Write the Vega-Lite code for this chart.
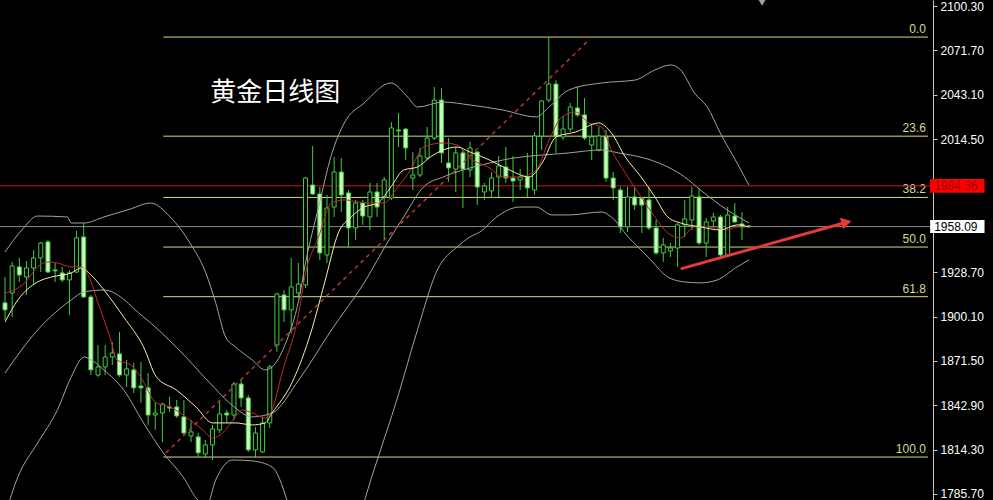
{
"$schema":"https://vega.github.io/schema/vega-lite/v6.json",
"width":933,"height":500,"autosize":"none",
"padding":{"left":0,"top":0,"right":60,"bottom":0},
"background":"#000000",
"config":{"view":{"stroke":null}},
"datasets":{
"candles":[
{"k":0,"o":1908.9,"h":1925.6,"l":1897.9,"c":1904.4},
{"k":1,"o":1915.3,"h":1935.3,"l":1899.8,"c":1932.7},
{"k":2,"o":1932.1,"h":1937.9,"l":1922.4,"c":1926.9},
{"k":3,"o":1925.6,"h":1935.9,"l":1914.0,"c":1931.4},
{"k":4,"o":1931.4,"h":1943.0,"l":1920.5,"c":1937.9},
{"k":5,"o":1937.9,"h":1948.2,"l":1928.8,"c":1947.5},
{"k":6,"o":1948.2,"h":1949.5,"l":1928.2,"c":1928.8},
{"k":7,"o":1930.1,"h":1934.6,"l":1922.4,"c":1929.5},
{"k":8,"o":1928.2,"h":1932.1,"l":1922.4,"c":1923.7},
{"k":9,"o":1923.7,"h":1930.1,"l":1901.1,"c":1928.2},
{"k":10,"o":1928.8,"h":1955.3,"l":1928.2,"c":1950.8},
{"k":11,"o":1951.4,"h":1960.4,"l":1912.1,"c":1912.7},
{"k":12,"o":1912.7,"h":1914.0,"l":1862.4,"c":1865.7},
{"k":13,"o":1862.4,"h":1881.8,"l":1861.2,"c":1867.6},
{"k":14,"o":1867.6,"h":1881.8,"l":1862.4,"c":1874.0},
{"k":15,"o":1874.0,"h":1883.7,"l":1868.9,"c":1876.6},
{"k":16,"o":1876.0,"h":1890.2,"l":1861.2,"c":1862.4},
{"k":17,"o":1862.4,"h":1872.1,"l":1854.7,"c":1866.3},
{"k":18,"o":1865.7,"h":1870.2,"l":1850.8,"c":1854.1},
{"k":19,"o":1855.3,"h":1870.8,"l":1844.4,"c":1854.1},
{"k":20,"o":1854.1,"h":1863.7,"l":1830.2,"c":1836.6},
{"k":21,"o":1836.6,"h":1845.0,"l":1827.0,"c":1837.9},
{"k":22,"o":1837.9,"h":1844.5,"l":1819.2,"c":1843.7},
{"k":23,"o":1841.8,"h":1848.3,"l":1838.6,"c":1841.1},
{"k":24,"o":1841.8,"h":1846.3,"l":1834.7,"c":1836.0},
{"k":25,"o":1835.4,"h":1846.3,"l":1823.8,"c":1825.0},
{"k":26,"o":1823.1,"h":1833.4,"l":1819.2,"c":1825.7},
{"k":27,"o":1822.5,"h":1825.0,"l":1809.6,"c":1812.2},
{"k":28,"o":1811.5,"h":1820.5,"l":1808.9,"c":1817.3},
{"k":29,"o":1817.3,"h":1830.2,"l":1807.6,"c":1827.6},
{"k":30,"o":1827.0,"h":1845.0,"l":1825.0,"c":1837.3},
{"k":31,"o":1837.9,"h":1839.9,"l":1831.5,"c":1836.6},
{"k":32,"o":1836.6,"h":1857.9,"l":1833.4,"c":1856.6},
{"k":33,"o":1856.6,"h":1859.2,"l":1841.8,"c":1847.6},
{"k":34,"o":1847.6,"h":1849.5,"l":1812.8,"c":1814.1},
{"k":35,"o":1814.1,"h":1828.9,"l":1808.9,"c":1825.0},
{"k":36,"o":1812.8,"h":1835.4,"l":1812.2,"c":1831.5},
{"k":37,"o":1831.5,"h":1868.9,"l":1828.3,"c":1867.6},
{"k":38,"o":1881.8,"h":1915.3,"l":1877.3,"c":1914.7},
{"k":39,"o":1914.0,"h":1917.2,"l":1896.6,"c":1904.4},
{"k":40,"o":1904.4,"h":1937.9,"l":1889.5,"c":1919.2},
{"k":41,"o":1915.3,"h":1934.6,"l":1912.0,"c":1921.0},
{"k":42,"o":1920.5,"h":1990.1,"l":1918.5,"c":1989.4},
{"k":43,"o":1984.9,"h":2010.1,"l":1978.5,"c":1979.1},
{"k":44,"o":1979.1,"h":1983.6,"l":1936.6,"c":1941.1},
{"k":45,"o":1939.8,"h":1978.5,"l":1934.6,"c":1970.1},
{"k":46,"o":1970.7,"h":2003.0,"l":1964.3,"c":1993.3},
{"k":47,"o":1993.3,"h":2002.3,"l":1967.5,"c":1978.5},
{"k":48,"o":1979.8,"h":1981.7,"l":1945.0,"c":1957.2},
{"k":49,"o":1957.2,"h":1975.3,"l":1949.5,"c":1973.3},
{"k":50,"o":1973.3,"h":1975.3,"l":1959.2,"c":1964.9},
{"k":51,"o":1964.3,"h":1986.2,"l":1955.9,"c":1980.4},
{"k":52,"o":1980.4,"h":1986.2,"l":1964.3,"c":1970.7},
{"k":53,"o":1977.2,"h":1990.1,"l":1949.5,"c":1988.2},
{"k":54,"o":1976.5,"h":2025.5,"l":1975.3,"c":2021.7},
{"k":55,"o":2020.4,"h":2031.3,"l":2009.4,"c":2019.8},
{"k":56,"o":2021.0,"h":2021.7,"l":2001.0,"c":2008.8},
{"k":57,"o":1989.4,"h":2006.2,"l":1981.7,"c":1991.4},
{"k":58,"o":1991.4,"h":2008.8,"l":1990.1,"c":2003.6},
{"k":59,"o":2002.3,"h":2022.3,"l":2001.0,"c":2015.2},
{"k":60,"o":2015.2,"h":2048.1,"l":2013.9,"c":2039.7},
{"k":61,"o":2039.7,"h":2047.5,"l":1999.1,"c":2005.6},
{"k":62,"o":1999.1,"h":2015.2,"l":1986.9,"c":1995.9},
{"k":63,"o":1995.2,"h":2009.4,"l":1980.4,"c":2005.6},
{"k":64,"o":2005.6,"h":2007.5,"l":1970.1,"c":1995.2},
{"k":65,"o":1994.6,"h":2012.7,"l":1990.1,"c":2008.8},
{"k":66,"o":2006.2,"h":2006.8,"l":1972.0,"c":1983.6},
{"k":67,"o":1980.4,"h":1986.2,"l":1975.3,"c":1984.3},
{"k":68,"o":1981.1,"h":1993.3,"l":1976.5,"c":1989.4},
{"k":69,"o":1990.1,"h":2003.6,"l":1977.2,"c":1997.2},
{"k":70,"o":1996.5,"h":2009.4,"l":1986.2,"c":1989.4},
{"k":71,"o":1989.4,"h":2003.6,"l":1974.0,"c":1987.5},
{"k":72,"o":1988.2,"h":1995.2,"l":1981.7,"c":1990.1},
{"k":73,"o":1990.1,"h":2005.6,"l":1977.2,"c":1983.0},
{"k":74,"o":1981.7,"h":2019.1,"l":1978.5,"c":2016.5},
{"k":75,"o":2016.5,"h":2039.7,"l":2007.5,"c":2039.1},
{"k":76,"o":2039.7,"h":2080.3,"l":2038.4,"c":2050.0},
{"k":77,"o":2050.0,"h":2052.6,"l":2005.6,"c":2016.5},
{"k":78,"o":2015.9,"h":2029.4,"l":2013.9,"c":2021.0},
{"k":79,"o":2021.0,"h":2037.8,"l":2019.1,"c":2035.2},
{"k":80,"o":2034.6,"h":2048.1,"l":2028.8,"c":2030.1},
{"k":81,"o":2030.1,"h":2041.0,"l":2013.9,"c":2015.2},
{"k":82,"o":2010.7,"h":2023.6,"l":2001.0,"c":2015.9},
{"k":83,"o":2007.5,"h":2022.4,"l":2006.5,"c":2016.5},
{"k":84,"o":2016.5,"h":2020.4,"l":1986.9,"c":1989.4},
{"k":85,"o":1989.4,"h":1993.3,"l":1975.3,"c":1983.0},
{"k":86,"o":1981.7,"h":1983.6,"l":1954.0,"c":1957.9},
{"k":87,"o":1957.9,"h":1983.6,"l":1954.6,"c":1977.2},
{"k":88,"o":1977.2,"h":1983.0,"l":1968.8,"c":1972.0},
{"k":89,"o":1976.5,"h":1977.2,"l":1954.0,"c":1972.0},
{"k":90,"o":1975.3,"h":1983.6,"l":1955.9,"c":1957.2},
{"k":91,"o":1957.2,"h":1962.4,"l":1939.8,"c":1941.1},
{"k":92,"o":1941.1,"h":1950.8,"l":1935.3,"c":1946.3},
{"k":93,"o":1942.4,"h":1947.5,"l":1938.5,"c":1944.3},
{"k":94,"o":1944.3,"h":1960.4,"l":1932.1,"c":1959.2},
{"k":95,"o":1959.2,"h":1975.3,"l":1951.4,"c":1963.0},
{"k":96,"o":1962.4,"h":1983.6,"l":1955.9,"c":1977.8},
{"k":97,"o":1977.2,"h":1983.0,"l":1946.3,"c":1947.5},
{"k":98,"o":1947.5,"h":1963.7,"l":1938.5,"c":1961.1},
{"k":99,"o":1961.7,"h":1966.9,"l":1957.9,"c":1964.3},
{"k":100,"o":1964.3,"h":1965.6,"l":1938.5,"c":1939.8},
{"k":101,"o":1939.8,"h":1970.7,"l":1939.2,"c":1965.6},
{"k":102,"o":1964.9,"h":1973.3,"l":1960.4,"c":1961.1},
{"k":103,"o":1959.8,"h":1967.5,"l":1949.5,"c":1957.9},
{"k":104,"o":1958.5,"h":1958.9,"l":1957.5,"c":1958.09}
],
"lines":[
{"s":"upper","k":0,"p":1941.7},{"s":"upper","k":2.35,"p":1955.9},{"s":"upper","k":4.56,"p":1964.9},{"s":"upper","k":8.71,"p":1964.3},{"s":"upper","k":9.26,"p":1960.4},{"s":"upper","k":11.06,"p":1960.4},{"s":"upper","k":13.83,"p":1964.3},{"s":"upper","k":17.56,"p":1969.5},{"s":"upper","k":20.32,"p":1973.3},{"s":"upper","k":23.09,"p":1964.3},{"s":"upper","k":25.85,"p":1947.5},{"s":"upper","k":28.07,"p":1928.2},{"s":"upper","k":29.45,"p":1908.9},{"s":"upper","k":30.83,"p":1886.9},{"s":"upper","k":32.21,"p":1880.5},{"s":"upper","k":34.56,"p":1872.1},{"s":"upper","k":36.36,"p":1865.7},{"s":"upper","k":37.33,"p":1867.6},{"s":"upper","k":39.13,"p":1881.8},{"s":"upper","k":41.06,"p":1910.8},{"s":"upper","k":42.03,"p":1935.3},{"s":"upper","k":43.83,"p":1970.7},{"s":"upper","k":45.62,"p":2004.3},{"s":"upper","k":47.42,"p":2024.9},{"s":"upper","k":50.19,"p":2037.8},{"s":"upper","k":53.92,"p":2050.7},{"s":"upper","k":56.27,"p":2041.7},{"s":"upper","k":57.65,"p":2035.2},{"s":"upper","k":61.25,"p":2038.4},{"s":"upper","k":64.98,"p":2036.5},{"s":"upper","k":69.54,"p":2033.3},{"s":"upper","k":74.24,"p":2028.8},{"s":"upper","k":76.04,"p":2035.2},{"s":"upper","k":78.81,"p":2046.2},{"s":"upper","k":83.37,"p":2050.7},{"s":"upper","k":88.07,"p":2052.6},{"s":"upper","k":90.83,"p":2059.1},{"s":"upper","k":93.05,"p":2062.3},{"s":"upper","k":94.43,"p":2059.1},{"s":"upper","k":96.36,"p":2044.2},{"s":"upper","k":98.16,"p":2035.2},{"s":"upper","k":99.96,"p":2018.5},{"s":"upper","k":102.31,"p":1999.1},{"s":"upper","k":103.97,"p":1984.9},
{"s":"mid","k":0,"p":1863.7},{"s":"mid","k":4.56,"p":1891.4},{"s":"mid","k":9.26,"p":1910.8},{"s":"mid","k":11.06,"p":1916.0},{"s":"mid","k":13.83,"p":1917.2},{"s":"mid","k":19.36,"p":1899.8},{"s":"mid","k":23.92,"p":1880.5},{"s":"mid","k":28.62,"p":1857.3},{"s":"mid","k":31.38,"p":1844.4},{"s":"mid","k":34.56,"p":1835.4},{"s":"mid","k":37.33,"p":1837.9},{"s":"mid","k":41.06,"p":1859.2},{"s":"mid","k":45.62,"p":1891.4},{"s":"mid","k":50.19,"p":1921.8},{"s":"mid","k":53.92,"p":1951.4},{"s":"mid","k":55.72,"p":1964.3},{"s":"mid","k":58.48,"p":1983.6},{"s":"mid","k":61.25,"p":1990.1},{"s":"mid","k":64.01,"p":1994.6},{"s":"mid","k":67.74,"p":1999.1},{"s":"mid","k":69.54,"p":2001.0},{"s":"mid","k":78.81,"p":2005.6},{"s":"mid","k":83.37,"p":2007.5},{"s":"mid","k":85.72,"p":2005.6},{"s":"mid","k":90.28,"p":2001.0},{"s":"mid","k":94.98,"p":1990.1},{"s":"mid","k":97.19,"p":1981.7},{"s":"mid","k":100.93,"p":1968.8},{"s":"mid","k":103.97,"p":1960.4},
{"s":"lower","k":0,"p":1772.0},{"s":"lower","k":1.8,"p":1796.7},{"s":"lower","k":4.56,"p":1818.6},{"s":"lower","k":7.33,"p":1839.9},{"s":"lower","k":9.26,"p":1861.2},{"s":"lower","k":11.06,"p":1874.0},{"s":"lower","k":12.03,"p":1872.1},{"s":"lower","k":13.83,"p":1865.7},{"s":"lower","k":16.59,"p":1852.8},{"s":"lower","k":19.36,"p":1831.5},{"s":"lower","k":22.12,"p":1812.2},{"s":"lower","k":24.89,"p":1796.7},{"s":"lower","k":26.96,"p":1781.8},{"s":"lower","k":28.2,"p":1778.6},{"s":"lower","k":29.45,"p":1794.7},{"s":"lower","k":31.8,"p":1807.6},{"s":"lower","k":34.56,"p":1807.0},{"s":"lower","k":37.33,"p":1803.1},{"s":"lower","k":39.4,"p":1781.8},{"s":"lower","k":41.48,"p":1743.2},{"s":"lower","k":44.24,"p":1730.3},{"s":"lower","k":48.39,"p":1756.1},{"s":"lower","k":51.57,"p":1801.2},{"s":"lower","k":54.89,"p":1848.3},{"s":"lower","k":57.65,"p":1891.5},{"s":"lower","k":60.42,"p":1930.1},{"s":"lower","k":63.18,"p":1945.0},{"s":"lower","k":64.98,"p":1951.4},{"s":"lower","k":66.78,"p":1955.9},{"s":"lower","k":67.74,"p":1960.4},{"s":"lower","k":69.54,"p":1966.9},{"s":"lower","k":71.89,"p":1970.7},{"s":"lower","k":74.24,"p":1970.7},{"s":"lower","k":76.45,"p":1965.6},{"s":"lower","k":78.81,"p":1965.6},{"s":"lower","k":83.37,"p":1967.5},{"s":"lower","k":84.75,"p":1964.3},{"s":"lower","k":87.1,"p":1951.4},{"s":"lower","k":89.87,"p":1938.5},{"s":"lower","k":92.63,"p":1925.6},{"s":"lower","k":94.98,"p":1922.4},{"s":"lower","k":97.19,"p":1921.8},{"s":"lower","k":99.54,"p":1923.7},{"s":"lower","k":102.31,"p":1932.1},{"s":"lower","k":103.97,"p":1936.6},
{"s":"ma5","k":0,"p":1915.3},{"s":"ma5","k":2.77,"p":1921.8},{"s":"ma5","k":4.56,"p":1932.1},{"s":"ma5","k":5.94,"p":1935.3},{"s":"ma5","k":7.33,"p":1934.6},{"s":"ma5","k":9.26,"p":1932.1},{"s":"ma5","k":10.65,"p":1932.1},{"s":"ma5","k":11.75,"p":1925.6},{"s":"ma5","k":12.86,"p":1910.8},{"s":"ma5","k":14.79,"p":1885.0},{"s":"ma5","k":15.62,"p":1872.1},{"s":"ma5","k":17.56,"p":1868.9},{"s":"ma5","k":18.94,"p":1861.2},{"s":"ma5","k":21.15,"p":1844.4},{"s":"ma5","k":23.09,"p":1841.8},{"s":"ma5","k":25.85,"p":1833.4},{"s":"ma5","k":27.65,"p":1827.0},{"s":"ma5","k":29.03,"p":1821.8},{"s":"ma5","k":30.42,"p":1825.0},{"s":"ma5","k":32.21,"p":1835.4},{"s":"ma5","k":33.18,"p":1839.9},{"s":"ma5","k":34.56,"p":1837.9},{"s":"ma5","k":36.36,"p":1834.7},{"s":"ma5","k":37.33,"p":1839.9},{"s":"ma5","k":38.71,"p":1863.7},{"s":"ma5","k":41.06,"p":1902.4},{"s":"ma5","k":41.89,"p":1925.6},{"s":"ma5","k":43.83,"p":1951.4},{"s":"ma5","k":45.62,"p":1973.3},{"s":"ma5","k":47.42,"p":1975.3},{"s":"ma5","k":49.36,"p":1974.0},{"s":"ma5","k":51.15,"p":1973.3},{"s":"ma5","k":52.95,"p":1973.3},{"s":"ma5","k":54.89,"p":1983.6},{"s":"ma5","k":56.68,"p":1994.6},{"s":"ma5","k":58.48,"p":2009.4},{"s":"ma5","k":61.25,"p":2012.0},{"s":"ma5","k":63.18,"p":2010.7},{"s":"ma5","k":64.98,"p":2002.3},{"s":"ma5","k":67.74,"p":1995.9},{"s":"ma5","k":69.54,"p":1990.1},{"s":"ma5","k":71.89,"p":1990.1},{"s":"ma5","k":74.24,"p":1994.6},{"s":"ma5","k":76.04,"p":2013.9},{"s":"ma5","k":77.84,"p":2028.8},{"s":"ma5","k":79.77,"p":2032.0},{"s":"ma5","k":81.57,"p":2024.9},{"s":"ma5","k":83.37,"p":2022.3},{"s":"ma5","k":84.75,"p":2007.5},{"s":"ma5","k":86.69,"p":1992.7},{"s":"ma5","k":88.9,"p":1977.2},{"s":"ma5","k":90.83,"p":1964.3},{"s":"ma5","k":92.63,"p":1954.0},{"s":"ma5","k":94.43,"p":1950.8},{"s":"ma5","k":96.36,"p":1957.9},{"s":"ma5","k":98.16,"p":1957.9},{"s":"ma5","k":100.93,"p":1955.9},{"s":"ma5","k":102.31,"p":1957.9},{"s":"ma5","k":103.97,"p":1957.9},
{"s":"ma10","k":0,"p":1896.6},{"s":"ma10","k":1.8,"p":1910.8},{"s":"ma10","k":4.56,"p":1922.4},{"s":"ma10","k":6.5,"p":1925.6},{"s":"ma10","k":9.26,"p":1928.2},{"s":"ma10","k":10.65,"p":1931.4},{"s":"ma10","k":12.03,"p":1926.9},{"s":"ma10","k":13.83,"p":1917.2},{"s":"ma10","k":16.59,"p":1899.8},{"s":"ma10","k":19.36,"p":1880.5},{"s":"ma10","k":21.15,"p":1861.2},{"s":"ma10","k":23.92,"p":1852.8},{"s":"ma10","k":26.68,"p":1841.8},{"s":"ma10","k":29.03,"p":1831.5},{"s":"ma10","k":32.21,"p":1831.5},{"s":"ma10","k":34.56,"p":1830.2},{"s":"ma10","k":36.36,"p":1831.5},{"s":"ma10","k":37.33,"p":1837.9},{"s":"ma10","k":40.09,"p":1857.3},{"s":"ma10","k":42.86,"p":1891.4},{"s":"ma10","k":44.66,"p":1921.8},{"s":"ma10","k":46.59,"p":1954.0},{"s":"ma10","k":48.39,"p":1964.3},{"s":"ma10","k":50.19,"p":1970.7},{"s":"ma10","k":52.12,"p":1973.3},{"s":"ma10","k":53.92,"p":1983.6},{"s":"ma10","k":55.72,"p":1994.6},{"s":"ma10","k":57.65,"p":1996.5},{"s":"ma10","k":59.45,"p":2003.0},{"s":"ma10","k":61.25,"p":2007.5},{"s":"ma10","k":63.18,"p":2009.4},{"s":"ma10","k":64.98,"p":2006.2},{"s":"ma10","k":67.74,"p":2001.0},{"s":"ma10","k":70.51,"p":1994.6},{"s":"ma10","k":73.27,"p":1990.1},{"s":"ma10","k":75.07,"p":1999.1},{"s":"ma10","k":77.01,"p":2015.9},{"s":"ma10","k":79.77,"p":2019.1},{"s":"ma10","k":82.95,"p":2024.9},{"s":"ma10","k":84.75,"p":2018.5},{"s":"ma10","k":86.69,"p":2003.0},{"s":"ma10","k":88.9,"p":1990.1},{"s":"ma10","k":90.83,"p":1977.2},{"s":"ma10","k":92.63,"p":1964.3},{"s":"ma10","k":94.43,"p":1960.4},{"s":"ma10","k":97.19,"p":1957.9},{"s":"ma10","k":99.96,"p":1955.9},{"s":"ma10","k":102.31,"p":1959.2},{"s":"ma10","k":103.97,"p":1957.9}
],
"fib":[
{"lvl":"0.0","p":2080.3},{"lvl":"23.6","p":2016.4},{"lvl":"38.2","p":1976.9},{"lvl":"50.0","p":1944.9},{"lvl":"61.8","p":1912.9},{"lvl":"100.0","p":1809.5}
],
"trend":[{"k":22.5,"p":1812.2},{"k":81.6,"p":2078.4}],
"arrow":[{"k":94.43,"p":1930.8},{"k":117.6,"p":1960.9}]
},
"layer":[
{"data":{"name":"fib"},"mark":{"type":"rule","color":"#d9d97e","strokeWidth":1},
 "encoding":{"x":{"datum":22.12,"type":"quantitative","scale":{"domain":[0,129],"nice":false,"zero":false},"axis":null},"x2":{"datum":129},
 "y":{"field":"p","type":"quantitative","scale":{"domain":[1781.8,2104.2],"nice":false,"zero":false},
   "axis":{"orient":"right","title":null,"values":[1785.7,1814.3,1842.9,1871.5,1900.1,1928.7,2014.5,2043.1,2071.7,2100.3],"format":".2f","labelColor":"#ffffff","labelFont":"Liberation Sans","labelFontSize":12,"tickColor":"#c8c8c8","tickSize":4,"domainColor":"#c8c8c8","grid":false,"labelPadding":3,"labelOverlap":false,"labelBound":false,"labelFlush":false}}}},
{"data":{"name":"fib"},"mark":{"type":"text","color":"#d9d98a","font":"Liberation Sans","fontSize":12,"align":"right","baseline":"bottom","dy":-1},
 "encoding":{"x":{"datum":128.7,"type":"quantitative"},"y":{"field":"p","type":"quantitative"},"text":{"field":"lvl"}}},
{"data":{"values":[{"p":1984.36}]},"mark":{"type":"rule","color":"#d01818","strokeWidth":1},"encoding":{"y":{"field":"p","type":"quantitative"}}},
{"data":{"values":[{"p":1958.09}]},"mark":{"type":"rule","color":"#8a8a8a","strokeWidth":1},"encoding":{"y":{"field":"p","type":"quantitative"}}},
{"data":{"name":"candles"},"mark":{"type":"rule","color":"#3fcf3f","strokeWidth":1},
 "encoding":{"x":{"field":"k","type":"quantitative"},"y":{"field":"l","type":"quantitative"},"y2":{"field":"h"}}},
{"data":{"name":"candles"},"mark":{"type":"bar","size":4,"stroke":"#3fcf3f","strokeWidth":1},
 "encoding":{"x":{"field":"k","type":"quantitative"},"y":{"field":"o","type":"quantitative"},"y2":{"field":"c"},
  "fill":{"condition":{"test":"datum.c >= datum.o","value":"#000000"},"value":"#cdf7c0"}}},
{"data":{"name":"lines"},"mark":{"type":"line","clip":true,"strokeWidth":1,"interpolate":"monotone"},
 "encoding":{"x":{"field":"k","type":"quantitative"},"y":{"field":"p","type":"quantitative"},
  "color":{"field":"s","type":"nominal","scale":{"domain":["upper","mid","lower","ma5","ma10"],"range":["#9aa89a","#9aa89a","#9aa89a","#c42a2a","#f2f0a8"]},"legend":null}}},
{"data":{"name":"trend"},"mark":{"type":"line","color":"#b03a3a","strokeWidth":1.5,"strokeDash":[4,4]},
 "encoding":{"x":{"field":"k","type":"quantitative"},"y":{"field":"p","type":"quantitative"}}},
{"data":{"name":"arrow"},"mark":{"type":"line","color":"#e43a3a","strokeWidth":3},
 "encoding":{"x":{"field":"k","type":"quantitative"},"y":{"field":"p","type":"quantitative"}}},
{"data":{"values":[{"k":117.6,"p":1960.9}]},"mark":{"type":"point","shape":"triangle-right","size":140,"filled":true,"color":"#e43a3a","opacity":1,"angle":345},
 "encoding":{"x":{"field":"k","type":"quantitative"},"y":{"field":"p","type":"quantitative"}}},
{"data":{"values":[{"t":"黄金日线图"}]},"mark":{"type":"text","color":"#ffffff","font":"Noto Sans CJK SC","fontSize":26,"align":"left","baseline":"middle"},
 "encoding":{"x":{"datum":28.7,"type":"quantitative"},"y":{"datum":2044.2,"type":"quantitative"},"text":{"field":"t"}}},
{"data":{"values":[{"m":1}]},"mark":{"type":"point","shape":"triangle-down","size":50,"filled":true,"color":"#a0a0a0","opacity":1},
 "encoding":{"x":{"datum":105.8,"type":"quantitative"},"y":{"datum":2102.4,"type":"quantitative"}}},
{"data":{"values":[{"lo":1979.9,"hi":1988.8}]},"mark":{"type":"rect","fill":"#ff0000"},
 "encoding":{"x":{"datum":129.3,"type":"quantitative"},"x2":{"datum":136.9},"y":{"field":"lo","type":"quantitative"},"y2":{"field":"hi"}}},
{"data":{"values":[{"lo":1954.0,"hi":1962.4}]},"mark":{"type":"rect","fill":"#ffffff"},
 "encoding":{"x":{"datum":129.3,"type":"quantitative"},"x2":{"datum":136.9},"y":{"field":"lo","type":"quantitative"},"y2":{"field":"hi"}}},
{"data":{"values":[{"p":1984.36,"t":"1984.36"}]},"mark":{"type":"text","color":"#a00000","font":"Liberation Sans","fontSize":12,"align":"left","baseline":"middle","dx":4},
 "encoding":{"x":{"datum":129.3,"type":"quantitative"},"y":{"field":"p","type":"quantitative"},"text":{"field":"t"}}},
{"data":{"values":[{"p":1958.09,"t":"1958.09"}]},"mark":{"type":"text","color":"#000000","font":"Liberation Sans","fontSize":12,"align":"left","baseline":"middle","dx":4},
 "encoding":{"x":{"datum":129.3,"type":"quantitative"},"y":{"field":"p","type":"quantitative"},"text":{"field":"t"}}}
]
}
